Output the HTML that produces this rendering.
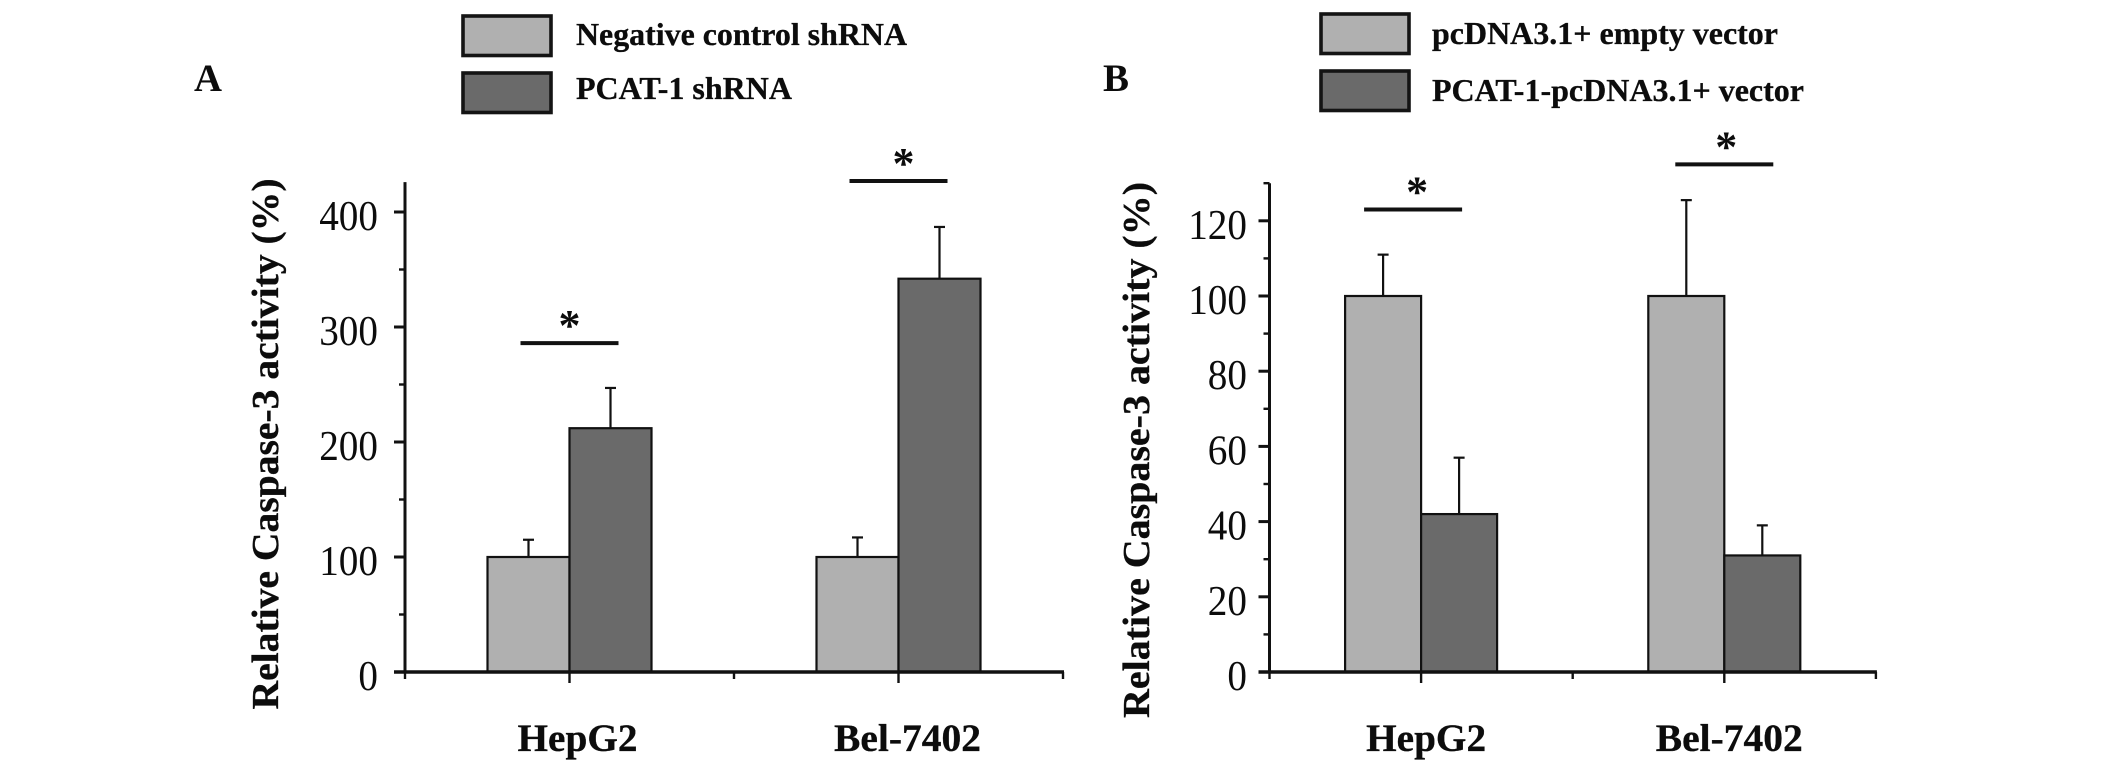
<!DOCTYPE html>
<html lang="en">
<head>
<meta charset="utf-8">
<title>Relative Caspase-3 activity</title>
<style>
html,body{margin:0;padding:0;background:#fff;width:2126px;height:772px;overflow:hidden}
svg{display:block;filter:blur(0.35px)}
text{font-family:"Liberation Serif",serif;fill:#0c0c0c}
</style>
</head>
<body>
<svg id="figure" xmlns="http://www.w3.org/2000/svg" width="2126" height="772" viewBox="0 0 2126 772"></svg>
<script>
const categories = ['HepG2', 'Bel-7402'];
const aTicks = ['0', '100', '200', '300', '400'];
const aMaxValue = 426;
const aControl = [100, 100];
const aTreated = [212, 342];
const aControlErrorTop = [115, 117];
const aTreatedErrorTop = [247, 387];
const aSignificance = [286, 427];
const aLegendLabels = ['Negative control shRNA', 'PCAT-1 shRNA'];

const bTicks = ['0', '20', '40', '60', '80', '100', '120'];
const bMaxValue = 130;
const bControl = [100, 100];
const bTreated = [42, 31];
const bControlErrorTop = [111, 125.5];
const bTreatedErrorTop = [57, 39];
const bSignificance = [123, 135];
const bLegendLabels = ['pcDNA3.1+ empty vector', 'PCAT-1-pcDNA3.1+ vector'];

const yAxisTitle = 'Relative Caspase-3 activity (%)';
const svg = document.getElementById('figure');
const NS = 'http://www.w3.org/2000/svg';

function make(tag, attrs, parent) {
  const node = document.createElementNS(NS, tag);
  for (const key in attrs) node.setAttribute(key, attrs[key]);
  (parent || svg).appendChild(node);
  return node;
}
function label(str, attrs, parent) {
  const node = make('text', attrs, parent);
  node.textContent = str;
  return node;
}

function drawPanel(cfg) {
  const group = make('g', {});
  
  
  const yScale = v => cfg.base - v * cfg.unit;
  const xScale = i => cfg.x0 + cfg.step * (2 * i + 1);

  const letter = label(cfg.id.toUpperCase(), {x: cfg.letterX, y: 91, 'font-size': 39, 'font-weight': 'bold', textLength: cfg.letterW, lengthAdjust: 'spacingAndGlyphs'}, group);
  
  

  cfg.legend.forEach((text, i) => {
    const swatch = make('rect', {x: cfg.legX + 2, y: cfg.legY[i] + 2, width: 88, height: 39.5, fill: i ? '#6a6a6a' : '#b0b0b0', stroke: '#141414', 'stroke-width': 3.6}, group);
    
    
    const entry = label(text, {x: cfg.legTextX, y: cfg.legBase[i], 'font-size': 32, 'font-weight': 'bold', stroke: '#0c0c0c', 'stroke-width': 0.3, textLength: cfg.legW[i], lengthAdjust: 'spacingAndGlyphs'}, group);
    
    
  });

  categories.forEach((name, i) => {
    const cx = xScale(i);
    [[cfg.control, cfg.controlErr, -1, '#b0b0b0', 'control'], [cfg.treated, cfg.treatedErr, 1, '#6a6a6a', 'treated']].forEach(s => {
      const left = s[2] < 0 ? cx - cfg.barW : cx;
      const mid = left + cfg.barW / 2;
      const top = yScale(s[0][i]);
      const bar = make('rect', {x: left, y: top, width: cfg.barW, height: cfg.base - top, fill: s[3], stroke: '#111', 'stroke-width': 2.2}, group);
      
      
      const errTop = yScale(s[1][i]);
      const stem = make('line', {x1: mid, x2: mid, y1: top, y2: errTop, stroke: '#111', 'stroke-width': 2.2}, group);
      
      
      const cap = make('line', {x1: mid - 5.5, x2: mid + 5.5, y1: errTop, y2: errTop, stroke: '#111', 'stroke-width': 2.2}, group);
      
      
    });
    const sy = yScale(cfg.sig[i]);
    const sigBar = make('line', {x1: cx - 49 + cfg.sigShift[i], x2: cx + 49 + cfg.sigShift[i], y1: sy, y2: sy, stroke: '#111', 'stroke-width': 4}, group);
    
    
    const star = label('*', {x: cx + cfg.sigShift[i] + cfg.starShift[i], y: sy - 3, 'font-size': 44, 'font-weight': 'bold', 'text-anchor': 'middle'}, group);
    
    
    const catLabel = label(name, {x: cx + cfg.catShift[i], y: 751, 'font-size': 39, 'font-weight': 'bold', stroke: '#0c0c0c', 'stroke-width': 0.3, 'text-anchor': 'middle', textLength: cfg.catW[i], lengthAdjust: 'spacingAndGlyphs'}, group);
    
    
  });

  const yAxis = make('line', {x1: cfg.x0, x2: cfg.x0, y1: yScale(cfg.max), y2: cfg.base, stroke: '#111', 'stroke-width': 3}, group);
  
  
  const xEnd = cfg.x0 + cfg.step * 4;
  const xAxis = make('line', {x1: cfg.x0 - 11, x2: xEnd + 1, y1: cfg.base, y2: cfg.base, stroke: '#111', 'stroke-width': 3.6}, group);
  
  

  for (let k = 0; k <= 4; k++) {
    const tx = cfg.x0 + cfg.step * k;
    const tick = make('line', {x1: tx, x2: tx, y1: cfg.base, y2: cfg.base + (k % 2 ? 11 : 7), stroke: '#111', 'stroke-width': 2.4}, group);
    
    
  }
  cfg.ticks.forEach((t, i) => {
    const v = Number(t);
    const tick = make('line', {x1: cfg.x0 - 11, x2: cfg.x0, y1: yScale(v), y2: yScale(v), stroke: '#111', 'stroke-width': 3}, group);
    
    
    const tl = label(t, {x: cfg.tickRight, y: yScale(v) + 18, 'font-size': 42, 'text-anchor': 'end', textLength: t.length * 19.6, lengthAdjust: 'spacingAndGlyphs'}, group);
    
    
    const nextStr = cfg.ticks[i + 1];
    const next = nextStr === undefined ? v + (v - Number(cfg.ticks[i - 1])) : Number(nextStr);
    const mv = (v + next) / 2;
    if (mv <= cfg.max) {
      const minor = make('line', {x1: cfg.x0 - 6, x2: cfg.x0, y1: yScale(mv), y2: yScale(mv), stroke: '#111', 'stroke-width': 2.4}, group);
      
      
    }
  });

  const title = label(yAxisTitle, {transform: 'translate(' + cfg.titleX + ',' + cfg.titleY + ') rotate(-90)', 'font-size': 38, 'font-weight': 'bold', stroke: '#0c0c0c', 'stroke-width': 0.3, 'text-anchor': 'middle', textLength: cfg.titleW, lengthAdjust: 'spacingAndGlyphs'}, group);
  
  
}

drawPanel({
  id: 'a', letterX: 194, letterW: 28, x0: 405, step: 164.5, base: 672, unit: 1.15, barW: 82, max: aMaxValue,
  ticks: aTicks, control: aControl, treated: aTreated, controlErr: aControlErrorTop, treatedErr: aTreatedErrorTop, sig: aSignificance,
  sigShift: [0, 0], starShift: [0, 5], legend: aLegendLabels, legX: 461, legY: [14, 71], legTextX: 576, legBase: [45, 99], legW: [331, 216],
  catShift: [8, 9], catW: [120, 147], tickRight: 378, titleX: 278, titleY: 444, titleW: 531
});
drawPanel({
  id: 'b', letterX: 1103, letterW: 26, x0: 1269.5, step: 151.6, base: 672, unit: 3.76, barW: 76, max: bMaxValue,
  ticks: bTicks, control: bControl, treated: bTreated, controlErr: bControlErrorTop, treatedErr: bTreatedErrorTop, sig: bSignificance,
  sigShift: [-8, 0], starShift: [4, 2], legend: bLegendLabels, legX: 1319, legY: [12, 69], legTextX: 1432, legBase: [44, 101], legW: [346, 372],
  catShift: [5, 5], catW: [120, 147], tickRight: 1247, titleX: 1149, titleY: 450, titleW: 536
});
</script>
</body>
</html>
